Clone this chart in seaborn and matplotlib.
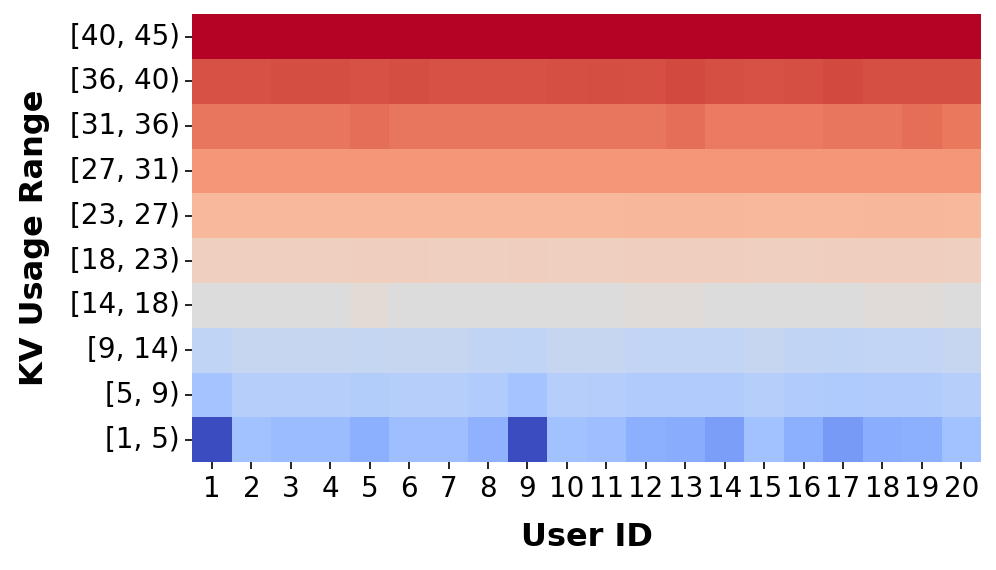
import numpy as np
import pandas as pd
import seaborn as sns
import matplotlib
matplotlib.use("Agg")
import matplotlib.pyplot as plt

ranges = ["[40, 45)", "[36, 40)", "[31, 36)", "[27, 31)", "[23, 27)",
          "[18, 23)", "[14, 18)", "[9, 14)", "[5, 9)", "[1, 5)"]
users = [str(i) for i in range(1, 21)]

r40_45 = [1.0] * 20
r36_40 = [0.90, 0.90, 0.91, 0.91, 0.90, 0.91, 0.90, 0.90, 0.90, 0.905,
          0.91, 0.905, 0.915, 0.905, 0.90, 0.905, 0.915, 0.905, 0.905, 0.905]
r31_36 = [0.83, 0.83, 0.83, 0.83, 0.845, 0.83, 0.83, 0.83, 0.83, 0.83,
          0.83, 0.83, 0.845, 0.82, 0.82, 0.82, 0.83, 0.83, 0.845, 0.825]
r27_31 = [0.755, 0.755, 0.755, 0.755, 0.755, 0.755, 0.755, 0.755, 0.755, 0.755,
          0.755, 0.755, 0.755, 0.755, 0.755, 0.755, 0.755, 0.755, 0.755, 0.755]
r23_27 = [0.665, 0.665, 0.665, 0.665, 0.665, 0.665, 0.665, 0.665, 0.665, 0.665,
          0.665, 0.67, 0.67, 0.67, 0.665, 0.665, 0.665, 0.67, 0.67, 0.665]
r18_23 = [0.58, 0.58, 0.58, 0.58, 0.585, 0.585, 0.58, 0.58, 0.585, 0.58,
          0.58, 0.585, 0.585, 0.585, 0.58, 0.58, 0.585, 0.585, 0.585, 0.58]
r14_18 = [0.50, 0.50, 0.50, 0.50, 0.52, 0.50, 0.50, 0.50, 0.50, 0.50,
          0.50, 0.515, 0.515, 0.50, 0.50, 0.50, 0.50, 0.515, 0.515, 0.50]
r9_14 = [0.40, 0.42, 0.42, 0.42, 0.415, 0.42, 0.42, 0.405, 0.40, 0.42,
         0.42, 0.41, 0.41, 0.41, 0.42, 0.405, 0.40, 0.41, 0.41, 0.42]
r5_9 = [0.32, 0.37, 0.37, 0.37, 0.36, 0.37, 0.37, 0.355, 0.32, 0.37,
        0.365, 0.355, 0.355, 0.355, 0.37, 0.355, 0.35, 0.355, 0.355, 0.37]
r1_5 = [0.0, 0.31, 0.29, 0.29, 0.25, 0.30, 0.30, 0.26, 0.0, 0.31,
        0.30, 0.25, 0.24, 0.20, 0.31, 0.25, 0.19, 0.245, 0.25, 0.31]

rows = [r40_45, r36_40, r31_36, r27_31, r23_27, r18_23, r14_18, r9_14, r5_9, r1_5]
df = pd.DataFrame(rows, index=ranges, columns=users)

fig = plt.figure(figsize=(9.96, 5.70), dpi=100)
ax = fig.add_axes([0.193, 0.189, 0.792, 0.786])
sns.heatmap(df, ax=ax, cmap="coolwarm", vmin=0, vmax=1, cbar=False)

ax.tick_params(axis="both", which="both", length=5, width=1.2, labelsize=20, pad=4)
ax.set_xticklabels(users, rotation=0)
ax.set_yticklabels(ranges, rotation=0)
ax.set_xlabel("User ID", fontsize=23, fontweight="bold", labelpad=14)
ax.set_ylabel("KV Usage Range", fontsize=23, fontweight="bold", labelpad=14)

fig.savefig("out.png", dpi=100)
